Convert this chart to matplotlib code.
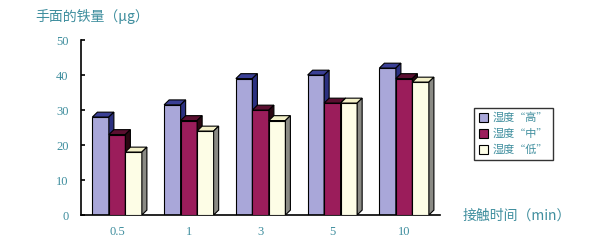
import numpy as np
import matplotlib.pyplot as plt
from matplotlib.patches import Polygon, Patch

plt.rcParams['font.family'] = ['Noto Sans CJK SC', 'DejaVu Sans']

# data
times = ['0.5', '1', '3', '5', '10']
series = ['湿度“高”', '湿度“中”', '湿度“低”']
high = [28, 31.5, 39, 40, 42]
mid = [23, 27, 30, 32, 39]
low = [18, 24, 27, 32, 38]

values = [high, mid, low]
fronts = ['#a9a7d9', '#9b1d5b', '#fdfde6']
tops = ['#3a3f95', '#5a0f30', '#f3f0c8']
sides = ['#2b3080', '#2a0712', '#8a8a84']
teal = '#3f8e9e'

fig = plt.figure(figsize=(5.93, 2.46), dpi=100)
ax = fig.add_axes([0.137, 0.126, 0.605, 0.711])

x = np.arange(len(times))
w = 0.23
dx, dy = 0.07, 1.4
offsets = [-w, 0, w]

for i in range(3):
    xs = x + offsets[i]
    ax.bar(xs, values[i], width=w, color=fronts[i], edgecolor='black', linewidth=0.8, zorder=2 + i)
    for xc, v in zip(xs, values[i]):
        l, r = xc - w / 2, xc + w / 2
        top = Polygon([(l, v), (l + dx, v + dy), (r + dx, v + dy), (r, v)],
                      closed=True, facecolor=tops[i], edgecolor='black', linewidth=0.8, zorder=2 + i)
        side = Polygon([(r, 0), (r, v), (r + dx, v + dy), (r + dx, dy)],
                       closed=True, facecolor=sides[i], edgecolor='black', linewidth=0.8, zorder=2 + i)
        ax.add_patch(top)
        ax.add_patch(side)

ax.set_xlim(-0.5, 4.5)
ax.set_ylim(0, 50)
ax.set_yticks([0, 10, 20, 30, 40, 50])
ax.set_xticks(x)
ax.set_xticklabels(times)
for s in ['top', 'right']:
    ax.spines[s].set_visible(False)
ax.spines['left'].set_linewidth(1.2)
ax.spines['bottom'].set_linewidth(1.2)
ax.tick_params(axis='y', direction='in', length=3, width=1.2, colors='black',
               labelcolor=teal, labelsize=9, pad=9)
ax.tick_params(axis='x', length=0, labelcolor=teal, labelsize=9, pad=8)
for t in ax.get_xticklabels() + ax.get_yticklabels():
    t.set_family(['Liberation Serif', 'DejaVu Serif'])

fig.text(0.06, 0.935, '手面的铁量（μg）', color=teal, fontsize=10, va='center')
fig.text(0.78, 0.125, '接触时间（min）', color=teal, fontsize=10, va='center')

handles = [Patch(facecolor=fronts[i], edgecolor='black', linewidth=0.8) for i in range(3)]
leg = fig.legend(handles, series, loc='center', bbox_to_anchor=(0.866, 0.455),
                 fontsize=8, frameon=True, fancybox=False, edgecolor='black',
                 handlelength=0.8, handleheight=0.8, handletextpad=0.5,
                 labelspacing=0.5, borderpad=0.4)
leg.get_frame().set_linewidth(1.0)
for t in leg.get_texts():
    t.set_color(teal)

fig.savefig('out.png', dpi=100)
